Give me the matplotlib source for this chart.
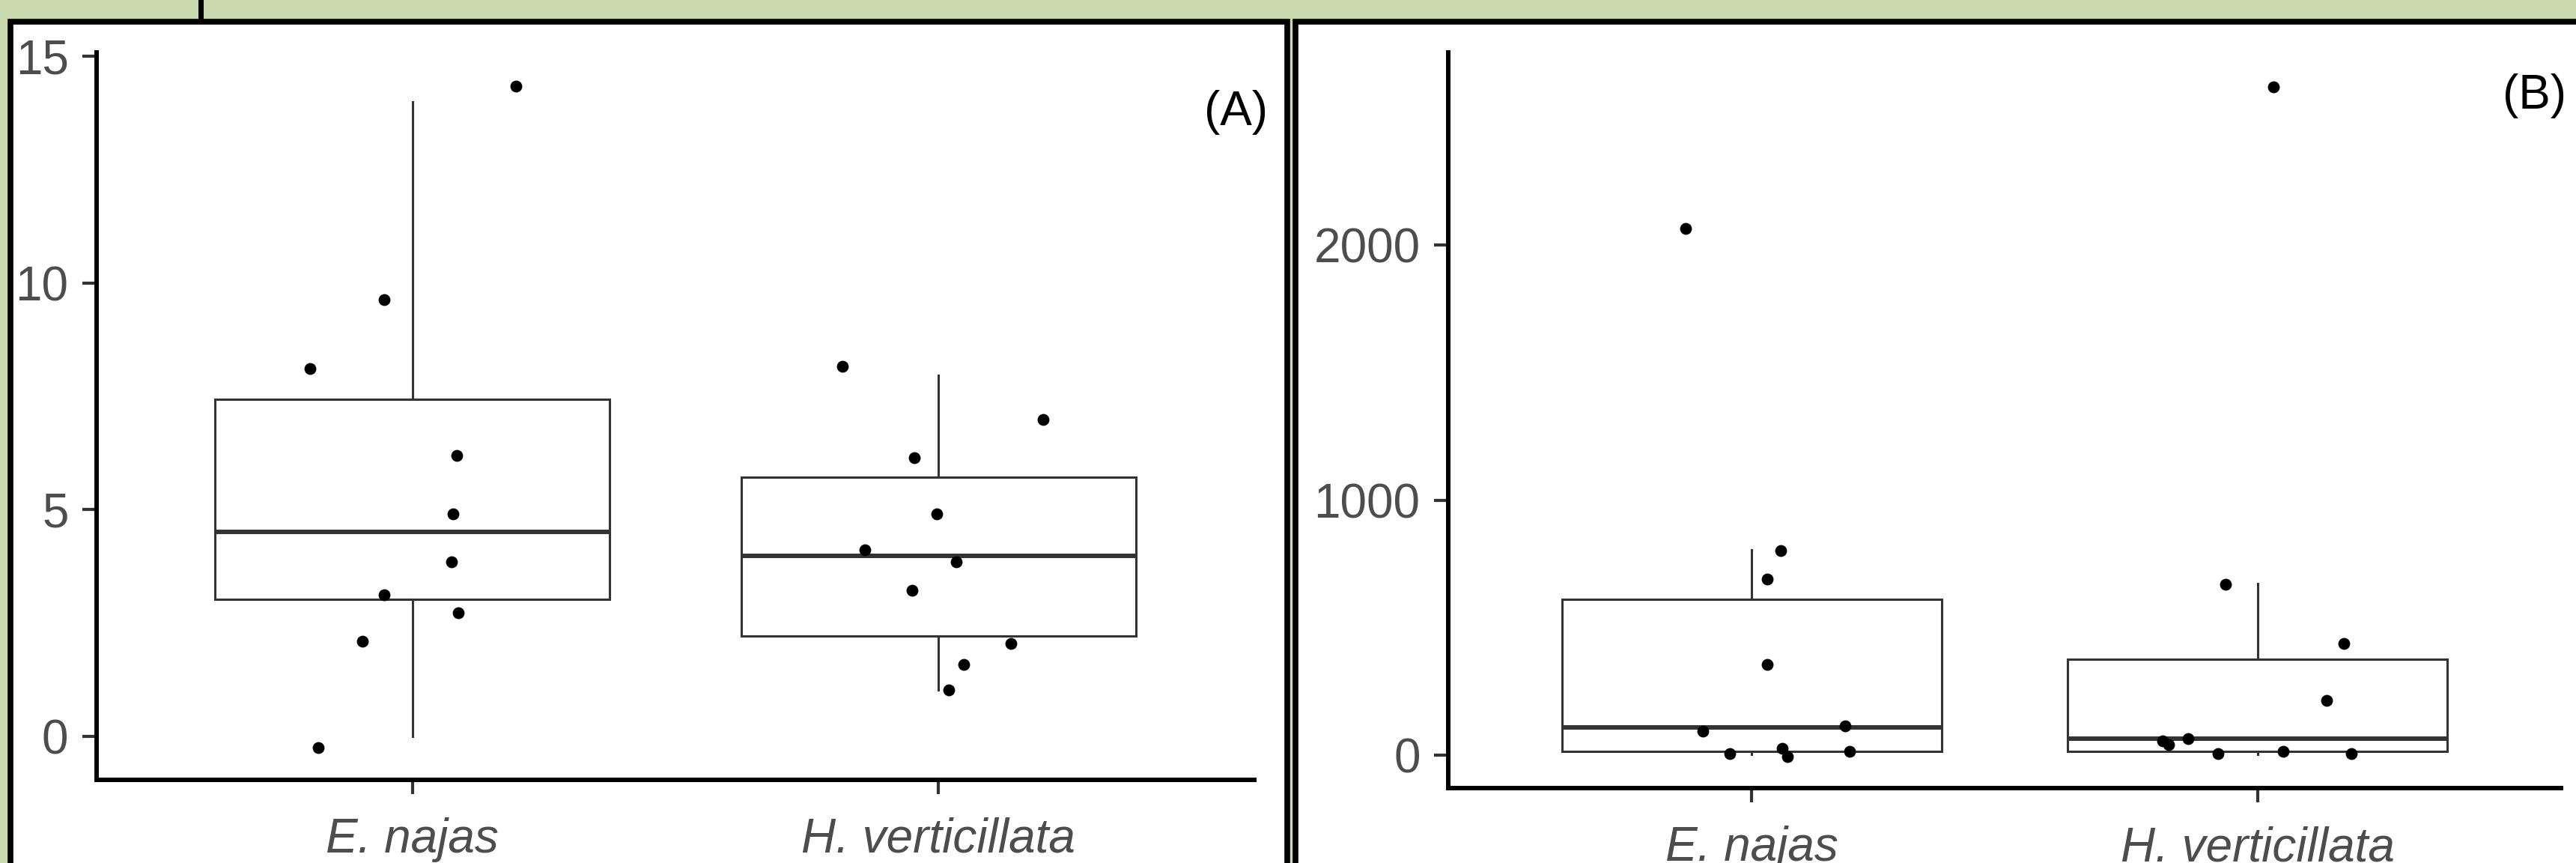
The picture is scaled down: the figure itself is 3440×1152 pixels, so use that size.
import matplotlib.pyplot as plt
from matplotlib.patches import Rectangle
from matplotlib.lines import Line2D

plt.rcParams['font.family'] = ['Liberation Sans', 'DejaVu Sans']

# --- data ---
species = ['E. najas', 'H. verticillata']

# (A) box stats per species
a_q1 = [3.02, 2.21]
a_med = [4.51, 3.98]
a_q3 = [7.44, 5.71]
a_whislo = [0.0, 1.02]
a_whishi = [14.0, 7.97]
# (A) jittered points: horizontal offset from category, value
a_dx = [[0.197, -0.053, -0.194, 0.084, 0.078, 0.074, -0.053, 0.088, -0.095, -0.179],
        [-0.182, 0.199, -0.046, -0.003, -0.140, 0.034, -0.050, 0.138, 0.048, 0.020]]
a_y = [[14.35, 9.64, 8.12, 6.20, 4.91, 3.85, 3.12, 2.73, 2.10, -0.25],
       [8.17, 6.99, 6.15, 4.91, 4.12, 3.85, 3.22, 2.05, 1.59, 1.03]]
a_ticks = [0, 5, 10, 15]

# (B) box stats per species
b_q1 = [14, 16]
b_med = [110, 65]
b_q3 = [610, 376]
b_whislo = [3, 3]
b_whishi = [805, 673]
b_dx = [[-0.131, 0.057, 0.031, 0.031, 0.185, -0.096, 0.061, 0.071, -0.043, 0.194],
        [0.032, -0.063, 0.170, 0.136, -0.187, -0.176, -0.137, -0.078, 0.051, 0.185]]
b_y = [[2065, 801, 690, 357, 115, 95, 27, -5, 5, 15],
       [2619, 671, 438, 216, 55, 41, 65, 5, 16, 5]]
b_ticks = [0, 1000, 2000]

W, H = 3440, 1152
fig = plt.figure(figsize=(W / 100, H / 100), dpi=100, facecolor='#c9d9ad')


def fx(x):
    return x / W


def fy(y):
    return 1 - y / H


# --- panel frames (screenshot look) ---
fig.add_artist(Rectangle((fx(13.5), fy(1250)), fx(1719) - fx(13.5), fy(29) - fy(1250),
                         transform=fig.transFigure, facecolor='white', edgecolor='black',
                         lw=5.5, zorder=-10))
fig.add_artist(Rectangle((fx(1729.5), fy(1250)), fx(3600) - fx(1729.5), fy(29) - fy(1250),
                         transform=fig.transFigure, facecolor='white', edgecolor='black',
                         lw=5.5, zorder=-10))
fig.add_artist(Line2D([fx(268), fx(268)], [fy(0), fy(26)], color='black', lw=5,
                      transform=fig.transFigure, zorder=-9))


def draw_panel(ax, q1, med, q3, lo, hi, dx, ys, ticks, ylim, tag, tag_xy):
    stats = []
    for i in range(len(species)):
        stats.append({'q1': q1[i], 'med': med[i], 'q3': q3[i],
                      'whislo': lo[i], 'whishi': hi[i], 'fliers': []})
    ax.bxp(stats, positions=[1, 2], widths=0.75, showcaps=False, showfliers=False,
           patch_artist=True,
           boxprops=dict(facecolor='white', edgecolor='#333333', lw=2.2),
           medianprops=dict(color='#333333', lw=4.3),
           whiskerprops=dict(color='#333333', lw=2.2))
    for i in range(len(species)):
        xs = [i + 1 + d for d in dx[i]]
        ax.scatter(xs, ys[i], s=130, color='black', zorder=5, linewidths=0)
    ax.set_xlim(0.4, 2.6)
    ax.set_ylim(*ylim)
    ax.set_xticks([1, 2])
    ax.set_xticklabels(species, fontstyle='italic')
    ax.set_yticks(ticks)
    ax.set_yticklabels([str(t) for t in ticks])
    ax.tick_params(axis='both', labelsize=46, labelcolor='#4d4d4d', color='#333333',
                   length=14, width=3)
    ax.tick_params(axis='y', pad=13)
    ax.tick_params(axis='x', pad=22)
    for s in ['top', 'right']:
        ax.spines[s].set_visible(False)
    for s in ['left', 'bottom']:
        ax.spines[s].set_linewidth(4.3)
        ax.spines[s].set_color('black')
    ax.set_facecolor('white')
    ax.text(tag_xy[0], tag_xy[1], tag, transform=ax.transAxes, fontsize=46,
            color='black', ha='center', va='center')


ax1 = fig.add_axes([fx(129), fy(1041), fx(1675) - fx(129), fy(70) - fy(1041)])
draw_panel(ax1, a_q1, a_med, a_q3, a_whislo, a_whishi, a_dx, a_y, a_ticks,
           (-0.96, 15.09), '(A)', (0.984, 0.918))

ax2 = fig.add_axes([fx(1934), fy(1052), fx(3420) - fx(1934), fy(70) - fy(1052)])
draw_panel(ax2, b_q1, b_med, b_q3, b_whislo, b_whishi, b_dx, b_y, b_ticks,
           (-129, 2755), '(B)', (0.976, 0.941))

fig.savefig('out.png', dpi=100, facecolor=fig.get_facecolor())
